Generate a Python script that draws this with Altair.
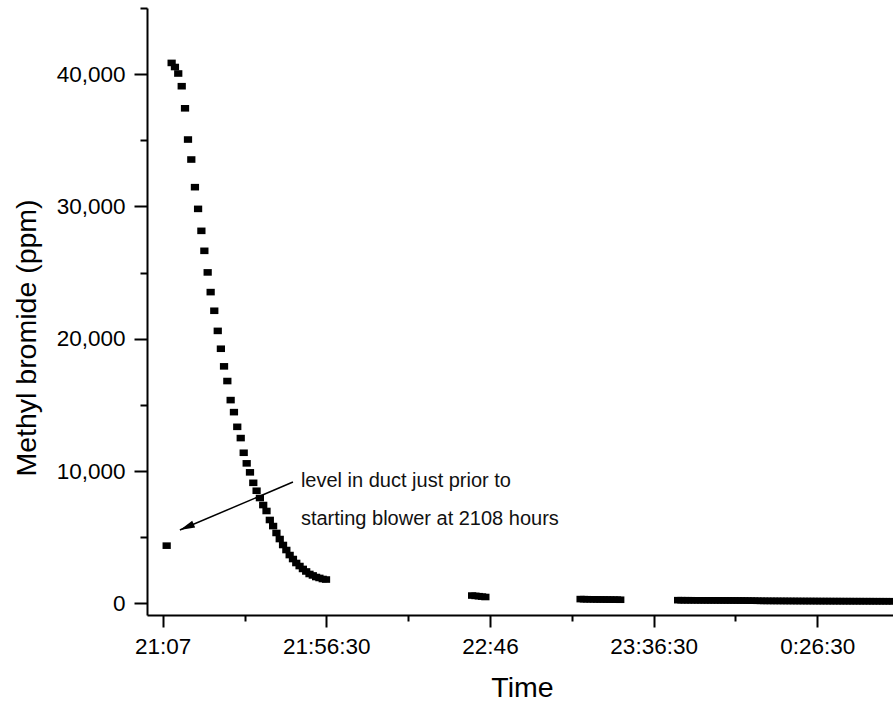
import altair as alt
import pandas as pd

# ---- data (time in minutes after 21:00, methyl bromide in ppm) ----
t_main = [8.2, 9.7, 10.7, 11.7, 12.75, 13.75, 14.65, 15.65, 16.75, 17.7, 18.7,
          19.6, 20.6, 21.5, 22.6, 23.65, 24.6, 25.55, 26.55, 27.55, 28.55,
          29.55, 30.6, 31.5, 32.4, 33.4, 34.4, 35.4,
          36.4, 37.4, 38.4, 39.4, 40.4, 41.4, 42.4, 43.4, 44.4, 45.4, 46.4,
          47.4, 48.4, 49.4, 50.4, 51.4, 52.4, 53.4, 54.4, 55.4, 56.4]
v_main = [4370, 40850, 40540, 40050, 39090, 37420, 35060, 33550, 31460, 29820,
          28160, 26650, 25020, 23530, 22120, 20600, 19250, 17920, 16810, 15370,
          14460, 13350, 12500, 11390, 10590, 9910, 9120, 8520,
          7970, 7440, 6990, 6310, 5850, 5330, 4870, 4420, 4040, 3660, 3360,
          3060, 2830, 2610, 2420, 2230, 2120, 2000, 1930, 1850, 1810]

t_seg2 = [100.6, 101.6, 102.6, 103.6, 104.6]
v_seg2 = [600, 575, 550, 520, 490]

t_seg3 = [133.4, 134.4, 135.4, 136.4, 137.4, 138.4, 139.4, 140.4, 141.4,
          142.4, 143.4, 144.4, 145.4]
v_seg3 = [332, 325, 321, 318, 313, 309, 305, 303, 298, 295, 290, 287, 283]

t_seg4 = [162.9, 163.9, 164.9, 165.9, 166.9, 167.9, 168.9, 169.9, 170.9, 171.9,
          172.9, 173.9, 174.9, 175.9, 176.9, 177.9, 178.9, 179.9, 180.9, 181.9,
          182.9, 183.9, 184.9, 185.9, 186.9, 187.9, 188.9, 189.9, 190.9, 191.9,
          192.9, 193.9, 194.9, 195.9, 196.9, 197.9, 198.9, 199.9, 200.9, 201.9,
          202.9, 203.9, 204.9, 205.9, 206.9, 207.9, 208.9, 209.9, 210.9, 211.9,
          212.9, 213.9, 214.9, 215.9, 216.9, 217.9, 218.9, 219.9, 220.9, 221.9,
          222.9, 223.9, 224.9, 225.9, 226.9, 227.9]
v_seg4 = [250, 248, 246, 245, 244, 243, 242, 240, 239, 238, 237, 236, 235, 233,
          232, 231, 230, 228, 226, 224, 222, 218, 214, 210, 205,
          200, 198, 196, 195, 194, 193, 192, 191, 190, 189, 188, 187, 186, 185,
          184, 184, 183, 182, 181, 180, 180, 179, 178, 178, 177, 176, 176, 175,
          175, 174, 174, 173, 173, 172, 172, 171, 171, 170, 170, 169, 169]

x_major_ticks = [7, 56.5, 106, 155.5, 205]
x_major_labels = ["21:07", "21:56:30", "22:46", "23:36:30", "0:26:30"]
x_minor_ticks = [31.75, 81.25, 130.75, 180.25]
y_ticks = [0, 5000, 10000, 15000, 20000, 25000, 30000, 35000, 40000, 45000]

note_lines = ["level in duct just prior to", "starting blower at 2108 hours"]
note_t = [48.8, 48.8]
note_v = [9275, 6360]
arrow_start = (46.4, 9177)
arrow_tip = (12.2, 5551)

# ---- tables ----
pts = pd.DataFrame({
    "t": t_main + t_seg2 + t_seg3 + t_seg4,
    "v": v_main + v_seg2 + v_seg3 + v_seg4,
})
notes = pd.DataFrame({"t": note_t, "v": note_v, "text": note_lines})
arrow = pd.DataFrame({"t": [arrow_start[0]], "v": [arrow_start[1]],
                      "t2": [arrow_tip[0]], "v2": [arrow_tip[1]]})
tip = pd.DataFrame({"t": [arrow_tip[0]], "v": [arrow_tip[1]]})

FONT = "Liberation Sans"

label_expr = "''"
for val, lab in reversed(list(zip(x_major_ticks, x_major_labels))):
    label_expr = f"datum.value == {val} ? '{lab}' : ({label_expr})"
major_list = "[" + ",".join(str(v) for v in x_major_ticks) + "]"
x_test = f"indexof({major_list}, datum.value) >= 0"

x_scale = alt.Scale(domain=[2.25, 227.9], nice=False, zero=False)
y_scale = alt.Scale(domain=[-870, 45000], nice=False, zero=False)

x_axis = alt.Axis(
    values=sorted(x_major_ticks + x_minor_ticks),
    labelExpr=label_expr,
    tickSize={"condition": {"test": x_test, "value": 12}, "value": 6},
    title="Time", titleX=375, titleY=81.7, titleBaseline="alphabetic",
    titleFontSize=28.5, titleFont=FONT, titleFontWeight="normal", titleColor="black",
    labelFontSize=22.5, labelFont=FONT, labelColor="black", labelPadding=8,
    labelFlush=False, labelOverlap=False, grid=False,
    domainColor="black", domainWidth=2, tickColor="black", tickWidth=2,
)
y_axis = alt.Axis(
    values=y_ticks,
    labelExpr="datum.value % 10000 == 0 ? format(datum.value, ',') : ''",
    tickSize={"condition": {"test": "datum.value % 10000 == 0", "value": 13}, "value": 7},
    title="Methyl bromide (ppm)", titleAngle=270, titleX=-112, titleY=329.5,
    titleAlign="center", titleBaseline="alphabetic",
    titleFontSize=28.5, titleFont=FONT, titleFontWeight="normal", titleColor="black",
    labelFontSize=22.5, labelFont=FONT, labelColor="black", labelPadding=9,
    labelFlush=False, labelOverlap=False, grid=False,
    domainColor="black", domainWidth=2, tickColor="black", tickWidth=2,
)

points = alt.Chart(pts).mark_point(
    shape="M-1,-0.8H1V0.8H-1Z", size=68, filled=True, color="black",
    opacity=1, strokeWidth=0,
).encode(
    x=alt.X("t:Q", scale=x_scale, axis=x_axis),
    y=alt.Y("v:Q", scale=y_scale, axis=y_axis),
)

line = alt.Chart(arrow).mark_rule(color="black", strokeWidth=1.5).encode(
    x="t:Q", y="v:Q", x2="t2:Q", y2="v2:Q"
)
head = alt.Chart(tip).mark_point(
    shape="M0,0L-0.5,2L0.5,2Z", size=225, filled=True, color="black",
    opacity=1, strokeWidth=0, angle=247,
).encode(x="t:Q", y="v:Q")

text = alt.Chart(notes).mark_text(
    align="left", baseline="middle", font=FONT, fontSize=20, color="#111111"
).encode(x="t:Q", y="v:Q", text="text:N")

chart = alt.layer(points, line, head, text).properties(
    width=746, height=607,
    autosize=alt.AutoSizeParams(type="none"),
    padding={"left": 147, "top": 8, "right": 0, "bottom": 93},
    background="white",
).configure_view(stroke=None)

chart.save("out.html", embed_options={"renderer": "svg", "actions": False})
